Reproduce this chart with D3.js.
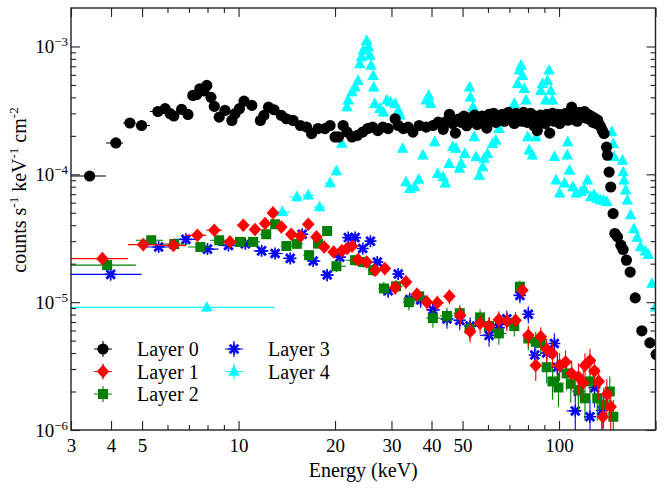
<!DOCTYPE html>
<html>
<head>
<meta charset="utf-8">
<script src="https://cdn.jsdelivr.net/npm/d3@7"></script>
<style>
  body { margin: 0; background: #fff; }
  svg text { font-family: "Liberation Serif", "Times New Roman", serif; fill: #000; }
</style>
</head>
<body>
<svg id="chart" width="664" height="499"></svg>
<script>
// ---- data (energy in keV, rate in counts/s/keV/cm2) ----
const layer0E = [3.43,4.14,4.58,4.98,5.6,5.9,6.12,6.28,6.64,6.95,7.2,7.4,7.57,7.8,7.96,8.2,8.4,8.7,
  9.07,9.53,9.75,10.06,10.4,11.0,11.7,12.0,12.4,12.9,13.6,14.1,14.8,15.6,16.3,16.9,17.7,18.6,19.3,
  20.0,20.5,21.2,21.8,22.6,23.5,24.4,25.3,26.2,27.2,28.2,29.3,30.8,31.5,32.7,33.8,35.0,36.6,38.5,40.4,42.0,
  43.5,44.5,45.5,46.5,47.5,48.5,49.5,50.5,51.5,52.5,53.5,54.5,55.5,56.5,57.5,58.5,59.5,60.5,61.5,62.5,
  63.5,64.5,65.5,66.5,67.5,68.5,69.5,70.5,71.5,72.5,73.5,74.5,75.5,76.5,77.5,78.5,79.5,80.5,81.5,82.5,
  83.5,84.5,85.5,86.5,87.5,88.5,89.5,90.5,91.5,92.5,93.5,94.5,95.5,96.5,97.5,98.5,99.5,100.5,102,103.5,
  105,106.5,108,109.5,111,112.5,114,115.5,117,118.5,120,121.5,123,124.5,126,127.5,129,130.5,132,133.5,
  135,136.5,138.2,140.7,141.6,143.3,145,147.5,149.4,152.2,155.9,158.4,162.3,166.7,172.9,181.3,192.1,201];
const layer0V = [9.7e-5,1.76e-4,2.52e-4,2.41e-4,3.1e-4,3.26e-4,2.98e-4,2.86e-4,3.22e-4,2.94e-4,4.14e-4,4.2e-4,
  4.67e-4,4.5e-4,4.96e-4,4.0e-4,3.4e-4,2.8e-4,
  3.16e-4,2.64e-4,2.98e-4,3.26e-4,3.74e-4,3.46e-4,2.64e-4,2.89e-4,3.35e-4,3.2e-4,2.89e-4,2.72e-4,2.64e-4,
  2.41e-4,2.34e-4,2.08e-4,2.28e-4,2.28e-4,2.41e-4,
  1.96e-4,1.96e-4,2.41e-4,2.14e-4,1.96e-4,2.02e-4,2.14e-4,2.28e-4,2.34e-4,2.2e-4,2.34e-4,2.28e-4,2.72e-4,
  2.41e-4,2.28e-4,2.34e-4,2.14e-4,2.41e-4,2.34e-4,2.41e-4,2.56e-4,
  2.25e-4,2.6e-4,2.95e-4,2.5e-4,2.1e-4,2.7e-4,2.55e-4,2.85e-4,2.4e-4,2.75e-4,2.6e-4,2.9e-4,2.45e-4,2.7e-4,
  2.85e-4,2.6e-4,2.3e-4,2.95e-4,2.7e-4,3.0e-4,2.55e-4,2.8e-4,2.65e-4,2.95e-4,2.6e-4,2.85e-4,3.05e-4,2.7e-4,
  2.9e-4,2.5e-4,3.0e-4,2.75e-4,2.85e-4,2.6e-4,3.05e-4,2.8e-4,2.55e-4,2.9e-4,3.0e-4,2.7e-4,2.4e-4,2.85e-4,
  2.2e-4,2.75e-4,2.9e-4,2.6e-4,2.85e-4,2.5e-4,2.95e-4,2.7e-4,2.1e-4,2.8e-4,3.0e-4,2.6e-4,2.85e-4,2.7e-4,
  2.95e-4,2.5e-4,2.9e-4,2.75e-4,3.0e-4,2.65e-4,2.85e-4,3.35e-4,2.7e-4,2.95e-4,2.6e-4,3.05e-4,2.8e-4,2.9e-4,
  3.1e-4,2.75e-4,2.95e-4,2.7e-4,2.85e-4,2.55e-4,2.75e-4,2.5e-4,2.65e-4,2.45e-4,2.35e-4,2.2e-4,2.08e-4,
  1.63e-4,1.41e-4,1.04e-4,7.96e-5,4.93e-5,3.44e-5,3.24e-5,2.79e-5,2.58e-5,2.13e-5,1.72e-5,1.08e-5,5.97e-6,
  4.8e-6,3.9e-6];

const layer1E = [3.76,5.04,6.26,7.44,8.4,9.4,10.35,11.25,12.1,12.8,13.6,14.6,15.6,16.5,17.5,18.5,19.8,21.0,
  21.8,22.6,23.6,25.1,26.7,28.6,30.8,33.3,36.0,38.7,41.7,45.5,49.2,52.8,56.7,60.5,64.9,68.7,73.2,76.9,80.2,
  84.6,87.7,91.5,95.4,100.4,104.8,109.5,115,119,120.5,124.9,129,133,137,141,145];
const layer1V = [2.19e-5,2.82e-5,2.78e-5,3.33e-5,3.65e-5,2.96e-5,4.0e-5,3.7e-5,4.12e-5,4.99e-5,3.87e-5,3.4e-5,
  3.28e-5,4.07e-5,3.24e-5,2.7e-5,2.47e-5,2.52e-5,2.63e-5,2.75e-5,2.15e-5,2.06e-5,1.78e-5,1.83e-5,1.3e-5,
  1.44e-5,1.15e-5,1.0e-5,9.9e-6,1.11e-5,7.9e-6,5.9e-6,6.8e-6,6.5e-6,7.3e-6,7.1e-6,7.2e-6,1.24e-5,5.5e-6,
  3.2e-6,5.36e-6,4.27e-6,3.96e-6,3.2e-6,3.4e-6,2.77e-6,2.6e-6,2.34e-6,3.2e-6,3.5e-6,2.9e-6,2.4e-6,1.27e-6,
  1.9e-6,1.52e-6];

const layer2E = [3.89,5.34,6.3,7.6,8.7,10.1,11.1,12.2,13.0,14.1,15.2,16.6,17.7,18.9,20.2,23.1,24.5,26.3,28.4,
  31.0,34.0,36.6,40.4,44.7,49,52.6,56.7,60.5,64.9,72.5,75.5,80.2,84.6,87.7,91.5,95.4,99.6,105.6,108.8,115,
  120.5,124.9,131.6,137.7,144,147.7];
const layer2V = [1.95e-5,3.05e-5,2.85e-5,2.7e-5,3.05e-5,2.96e-5,2.96e-5,3.4e-5,4.07e-5,2.75e-5,2.86e-5,2.33e-5,
  2.87e-5,3.6e-5,1.91e-5,2.13e-5,2.06e-5,1.78e-5,1.28e-5,1.33e-5,1.0e-5,1.11e-5,7.5e-6,7.8e-6,8.2e-6,6.2e-6,
  7.6e-6,6.5e-6,5.7e-6,6.5e-6,1.32e-5,5.2e-6,4.9e-6,4.8e-6,3.1e-6,2.4e-6,2.15e-6,2.77e-6,2.3e-6,2.05e-6,
  1.77e-6,2.4e-6,1.77e-6,1.58e-6,2.0e-6,1.27e-6];

const layer3E = [3.99,5.63,6.85,8.0,9.3,10.5,11.8,13.0,14.5,15.8,17.1,18.9,20.7,22.0,23.1,24.4,25.8,27.1,29.3,
  31.5,34.2,37.0,40.4,44.7,49,52.8,60.5,64.9,68.7,75.5,80.2,84,91.5,96.7,98.8,112.4,115,124.9,129,136];
const layer3V = [1.65e-5,2.7e-5,3.1e-5,2.6e-5,2.78e-5,2.86e-5,2.52e-5,2.4e-5,2.2e-5,3.4e-5,2.1e-5,1.63e-5,
  2.25e-5,3.2e-5,3.2e-5,2.63e-5,3.0e-5,2.06e-5,1.23e-5,1.66e-5,1.05e-5,1.04e-5,8.7e-6,7.4e-6,7.2e-6,6.5e-6,
  5.5e-6,6.3e-6,7.4e-6,1.13e-5,8.05e-6,3.86e-6,4.0e-6,4.75e-6,3.1e-6,1.41e-6,2.0e-6,1.27e-6,2.14e-6,1.42e-6];

const layer4E = [7.96,13.7,15.2,16.5,17.9,19.3,20.2,21.0,21.8,22.0,22.6,23.1,23.6,23.9,24.2,24.5,25.1,25.4,
  25.7,25.9,26.3,26.4,26.6,27.6,28.3,29.0,29.8,30.8,31.5,31.9,32.5,33.3,34.2,35.4,36.5,37.6,38.5,39.2,39.8,
  40.9,41.8,43.5,44.2,45.4,46.6,47.7,48.9,49.5,50.8,52.6,52.9,53.9,54.4,55.1,56.4,57.8,58.4,59.8,62.0,63.5,
  65.0,66.6,68.2,70.3,72.5,74.3,75.2,76.1,77.0,77.9,78.9,79.8,80.7,82.6,84.6,86.7,87.7,88.8,90.9,92.0,93.1,
  94.3,95.5,96.7,97.9,100.4,104.0,106.0,106.5,107.8,110.4,113.1,117.1,120,122.7,125.6,128.5,131.6,134.5,
  137.7,141,146,147.7,148.5,157.8,158.5,159.5,161.5,163.4,167.3,171.3,175.3,179.5,186,190,195,200];
const layer4V = [9.1e-6,5.08e-5,6.65e-5,6.86e-5,5.55e-5,8.55e-5,1.06e-4,1.74e-4,3.36e-4,3.79e-4,4.4e-4,4.8e-4,
  5.4e-4,7.3e-4,8.25e-4,9.3e-4,1.11e-3,9.9e-4,8.5e-4,7.1e-4,5.9e-4,4.8e-4,3.56e-4,3.26e-4,3.06e-4,3.79e-4,
  3.67e-4,3.56e-4,3.16e-4,2.89e-4,1.59e-4,8.7e-5,7.7e-5,7.96e-5,9.1e-5,1.41e-4,3.79e-4,4.14e-4,3.56e-4,
  1.79e-4,1.01e-4,9.5e-5,8.5e-5,1.21e-4,1.64e-4,1.59e-4,1.11e-4,1.21e-4,1.45e-4,4.8e-4,4.0e-4,3.36e-4,1.96e-4,
  1.37e-4,9.8e-5,1.14e-4,1.33e-4,1.45e-4,1.73e-4,1.84e-4,2.27e-4,2.64e-4,2.89e-4,3.1e-4,3.56e-4,5.1e-4,6.5e-4,
  7.1e-4,5.9e-4,4.67e-4,3.79e-4,1.96e-4,1.54e-4,1.41e-4,1.96e-4,2.8e-4,4.5e-4,5.1e-4,3.79e-4,5.4e-4,6.5e-4,
  4.5e-4,3.79e-4,1.37e-4,8.97e-5,7.1e-5,8.5e-5,1.41e-4,1.79e-4,1.07e-4,7.96e-5,7.1e-5,7.3e-5,7.6e-5,8.97e-5,
  6.65e-5,6.9e-5,6.47e-5,6.3e-5,6.25e-5,6.1e-5,2.14e-4,1.73e-4,1.37e-4,1.28e-4,1.04e-4,8.97e-5,7.5e-5,6.25e-5,
  4.8e-5,3.74e-5,3.2e-5,2.7e-5,2.5e-5,2.35e-5,1.4e-5,9.1e-6];

const legendNames = ["Layer 0", "Layer 1", "Layer 2", "Layer 3", "Layer 4"];
const majorX = [3, 4, 5, 10, 20, 30, 40, 50, 100, 200];
const labelX = [3, 4, 5, 10, 20, 30, 40, 50, 100];
const minorX = [6, 7, 8, 9, 60, 70, 80, 90];
const majorY = [1e-6, 1e-5, 1e-4, 1e-3];
const exponentY = ["\u22126", "\u22125", "\u22124", "\u22123"];

// ---- layout ----
const svg = d3.select("#chart");
const L = 71, R = 655.5, T = 8, B = 430;
const x = d3.scaleLog().domain([3, 200]).range([L, R]);
const y = d3.scaleLog().domain([1e-6, 2e-3]).range([B, T]);

const minorY = [];
majorY.forEach(d => { for (let k = 2; k <= 9; k++) if (d * k < 2e-3) minorY.push(d * k); });

const series = [
  {E: layer0E, V: layer0V, color: "#000000", shape: "circle",   rel: 0.03},
  {E: layer1E, V: layer1V, color: "#ff0000", shape: "diamond",  rel: 0},
  {E: layer2E, V: layer2V, color: "#008000", shape: "square",   rel: 0},
  {E: layer3E, V: layer3V, color: "#0000ff", shape: "asterisk", rel: 0},
  {E: layer4E, V: layer4V, color: "#00ffff", shape: "triangle", rel: 0.08}
];

function drawMarker(g, shape, color) {
  if (shape === "circle") g.append("circle").attr("r", 5.6).attr("fill", color);
  else if (shape === "diamond") g.append("path").attr("d", "M0,-6.8L6.3,0L0,6.8L-6.3,0Z").attr("fill", color);
  else if (shape === "square") g.append("rect").attr("x", -5).attr("y", -5).attr("width", 10).attr("height", 10).attr("fill", color);
  else if (shape === "triangle") g.append("path").attr("d", "M0,-6.5L5.8,4.2L-5.8,4.2Z").attr("fill", color);
  else if (shape === "asterisk") {
    g.append("path").attr("d", "M-4.3,-4.3L4.3,4.3M-4.3,4.3L4.3,-4.3").attr("stroke", color).attr("stroke-width", 2.8);
    g.append("path").attr("d", "M0,-6L0,6M-6,0L6,0").attr("stroke", color).attr("stroke-width", 1.6);
  }
}

svg.append("clipPath").attr("id", "plotclip")
  .append("rect").attr("x", L).attr("y", T).attr("width", R - L).attr("height", B - T);

const plot = svg.append("g").attr("clip-path", "url(#plotclip)");

// draw in reverse so layer 0 ends on top
series.slice().reverse().forEach(s => {
  const pts = s.E.map((e, i) => ({e, v: s.V[i]})).sort((a, b) => a.e - b.e);
  pts.forEach((p, i) => {
    const lo = i === 0 ? 3 : Math.min(p.e, pts[i - 1].hi !== undefined && pts[i - 1].hi < p.e ? pts[i - 1].hi : (pts[i - 1].e + p.e) / 2);
    const hi = i === 0 ? 2 * p.e - 3 : (i === pts.length - 1 ? p.e + (p.e - lo) : (p.e + pts[i + 1].e) / 2);
    p.lo = lo; p.hi = hi;
    const rel = s.rel || Math.min(0.35, 0.08 * Math.sqrt(3e-5 / p.v));
    p.vlo = p.v * (1 - rel); p.vhi = p.v * (1 + rel);
  });
  const g = plot.append("g");
  g.selectAll("line.h").data(pts).join("line").attr("class", "h")
    .attr("x1", d => x(d.lo)).attr("x2", d => x(d.hi))
    .attr("y1", d => y(d.v)).attr("y2", d => y(d.v))
    .attr("stroke", s.color).attr("stroke-width", 1.1);
  g.selectAll("line.v").data(pts).join("line").attr("class", "v")
    .attr("x1", d => x(d.e)).attr("x2", d => x(d.e))
    .attr("y1", d => y(d.vlo)).attr("y2", d => y(d.vhi))
    .attr("stroke", s.color).attr("stroke-width", 1.1);
  g.selectAll("g.m").data(pts).join("g").attr("class", "m")
    .attr("transform", d => `translate(${x(d.e)},${y(d.v)})`)
    .each(function() { drawMarker(d3.select(this), s.shape, s.color); });
});

// ---- axes ----
const axColor = "#222";
function styleAxis(g) {
  g.select(".domain").remove();
  g.selectAll(".tick line").attr("stroke", axColor).attr("stroke-width", 1.1);
}
svg.append("g").attr("transform", `translate(0,${B})`)
  .call(d3.axisBottom(x).tickValues(majorX).tickSizeInner(-9).tickSizeOuter(0).tickPadding(8.5)
    .tickFormat(d => labelX.includes(d) ? d : ""))
  .call(styleAxis)
  .call(g => g.selectAll("text").attr("font-size", 19).attr("font-family", "Liberation Serif").attr("fill", "#000"));
svg.append("g").attr("transform", `translate(0,${B})`)
  .call(d3.axisBottom(x).tickValues(minorX).tickSizeInner(-5).tickSizeOuter(0).tickFormat(""))
  .call(styleAxis);
svg.append("g").attr("transform", `translate(0,${T})`)
  .call(d3.axisTop(x).tickValues(majorX).tickSizeInner(-9).tickSizeOuter(0).tickFormat(""))
  .call(styleAxis);
svg.append("g").attr("transform", `translate(0,${T})`)
  .call(d3.axisTop(x).tickValues(minorX).tickSizeInner(-5).tickSizeOuter(0).tickFormat(""))
  .call(styleAxis);

const yAxis = svg.append("g").attr("transform", `translate(${L},0)`)
  .call(d3.axisLeft(y).tickValues(majorY).tickSizeInner(-9).tickSizeOuter(0).tickPadding(3).tickFormat(""))
  .call(styleAxis);
yAxis.selectAll(".tick text").each(function(d, i) {
  const t = d3.select(this).attr("font-size", 19).attr("font-family", "Liberation Serif").attr("fill", "#000");
  t.append("tspan").text("10");
  t.append("tspan").attr("dy", -7).attr("font-size", 13).text(exponentY[majorY.indexOf(d)]);
});
svg.append("g").attr("transform", `translate(${L},0)`)
  .call(d3.axisLeft(y).tickValues(minorY).tickSizeInner(-5).tickSizeOuter(0).tickFormat(""))
  .call(styleAxis);
svg.append("g").attr("transform", `translate(${R},0)`)
  .call(d3.axisRight(y).tickValues(majorY).tickSizeInner(-9).tickSizeOuter(0).tickFormat(""))
  .call(styleAxis);
svg.append("g").attr("transform", `translate(${R},0)`)
  .call(d3.axisRight(y).tickValues(minorY).tickSizeInner(-5).tickSizeOuter(0).tickFormat(""))
  .call(styleAxis);

svg.append("rect").attr("x", L).attr("y", T).attr("width", R - L).attr("height", B - T)
  .attr("fill", "none").attr("stroke", axColor).attr("stroke-width", 1.4);

// axis titles
svg.append("text").attr("x", (L + R) / 2).attr("y", 477).attr("text-anchor", "middle")
  .attr("font-size", 20).text("Energy (keV)");

const yl = svg.append("text").attr("transform", "translate(26,190) rotate(-90)")
  .attr("text-anchor", "middle").attr("font-size", 20);
yl.append("tspan").text("counts s");
yl.append("tspan").attr("dy", -8).attr("font-size", 13).text("-1");
yl.append("tspan").attr("dy", 8).text(" keV");
yl.append("tspan").attr("dy", -8).attr("font-size", 13).text("-1");
yl.append("tspan").attr("dy", 8).text(" cm");
yl.append("tspan").attr("dy", -8).attr("font-size", 13).text("-2");

// ---- legend ----
const legendPos = [[103, 349], [103, 371.5], [103, 394], [234, 349], [234, 371.5]];
legendNames.forEach((name, i) => {
  const s = series[i];
  const g = svg.append("g").attr("transform", `translate(${legendPos[i][0]},${legendPos[i][1]})`);
  g.append("path").attr("d", "M-9,0L9,0M0,-8L0,8").attr("stroke", s.color).attr("stroke-width", 1.1);
  drawMarker(g, s.shape, s.color);
  g.append("text").attr("x", 34).attr("y", 7).attr("font-size", 20).text(name);
});
</script>
</body>
</html>
